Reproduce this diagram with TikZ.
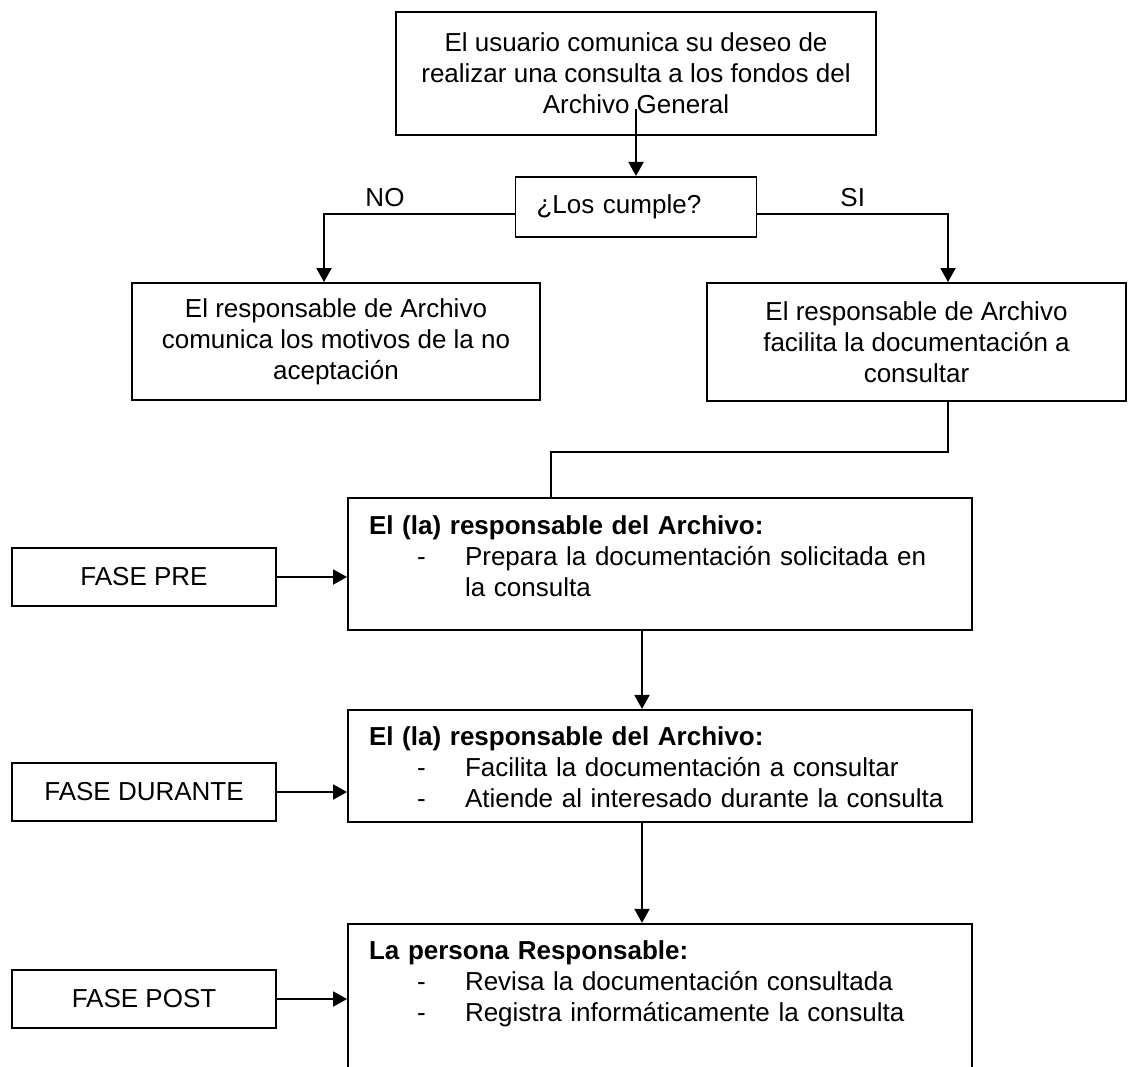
\documentclass[tikz,border=0pt]{standalone}
\usepackage{fontspec}
\setmainfont{Liberation Sans}
\usetikzlibrary{arrows.meta,positioning}

\begin{document}
\begin{tikzpicture}[x=1pt,y=-1pt,->,>={Triangle[length=14pt,width=15pt]},line width=1.9pt,
                    font=\fontsize{26}{31}\selectfont,
                    caja/.style={draw,-,rectangle,inner sep=0pt,align=center},
                    fase/.style={caja,minimum width=264pt,minimum height=58pt},
                    paso/.style={draw,-,rectangle,inner xsep=21pt,inner ysep=0pt,
                                 text width=582pt,align=left,text height=36pt},
                    rotulo/.style={inner sep=2pt}]

  \useasboundingbox (0,0) rectangle (1129,1066);

  \node[caja,minimum width=480pt,minimum height=123pt] (usuario) at (636,73.5)
        {El usuario comunica su deseo de\\realizar una consulta a los fondos del\\Archivo General};
  \node[caja,minimum width=241pt,minimum height=60pt,inner xsep=21pt,text width=199pt,align=left]
        (cumple) [below=40pt of usuario] {¿Los cumple?};
  \node[caja,minimum width=408pt,minimum height=117pt] (no) at (336,341.5)
        {El responsable de Archivo\\comunica los motivos de la no\\aceptación};
  \node[caja,minimum width=419pt,minimum height=118pt] (si) at (916.5,342)
        {El responsable de Archivo\\facilita la documentación a\\consultar};

  \node[paso,text depth=96pt] (prepara) at (660,564)
        {{\bfseries El (la) responsable del Archivo:}\\
         \hspace*{48pt}\makebox[48pt][l]{-}Prepara la documentación solicitada en\\
         \hspace*{96pt}la consulta};
  \node[paso,text depth=76pt] (facilita) [below=78pt of prepara]
        {{\bfseries El (la) responsable del Archivo:}\\
         \hspace*{48pt}\makebox[48pt][l]{-}Facilita la documentación a consultar\\
         \hspace*{48pt}\makebox[48pt][l]{-}Atiende al interesado durante la consulta};
  \node[paso,text depth=125pt] (revisa) [below=100pt of facilita]
        {{\bfseries La persona Responsable:}\\
         \hspace*{48pt}\makebox[48pt][l]{-}Revisa la documentación consultada\\
         \hspace*{48pt}\makebox[48pt][l]{-}Registra informáticamente la consulta};

  \node[fase] (fpre)     at (144,577) {FASE PRE};
  \node[fase] (fdurante) at (144,792) {FASE DURANTE};
  \node[fase] (fpost)    at (144,999) {FASE POST};

  \coordinate (codo) at (551,452);

  \draw ([yshift=27pt]usuario.south) -- (cumple.north);
  \draw ([yshift=-7pt]cumple.west) -| node[rotulo,above=4pt,pos=0.34] {NO} ([xshift=-12pt]no.north);
  \draw ([yshift=-7pt]cumple.east) -| node[rotulo,above=4pt,pos=0.25] {SI} ([xshift=31.5pt]si.north);
  \draw[-] ([xshift=31.5pt]si.south) |- (codo) -- (codo |- prepara.north);
  \draw ([xshift=-18pt]prepara.south) -- ([xshift=-18pt]facilita.north);
  \draw ([xshift=-18pt]facilita.south) -- ([xshift=-18pt]revisa.north);
  \draw (fpre.east) -- (fpre.east -| prepara.west);
  \draw (fdurante.east) -- (fdurante.east -| facilita.west);
  \draw (fpost.east) -- (fpost.east -| revisa.west);
\end{tikzpicture}
\end{document}
